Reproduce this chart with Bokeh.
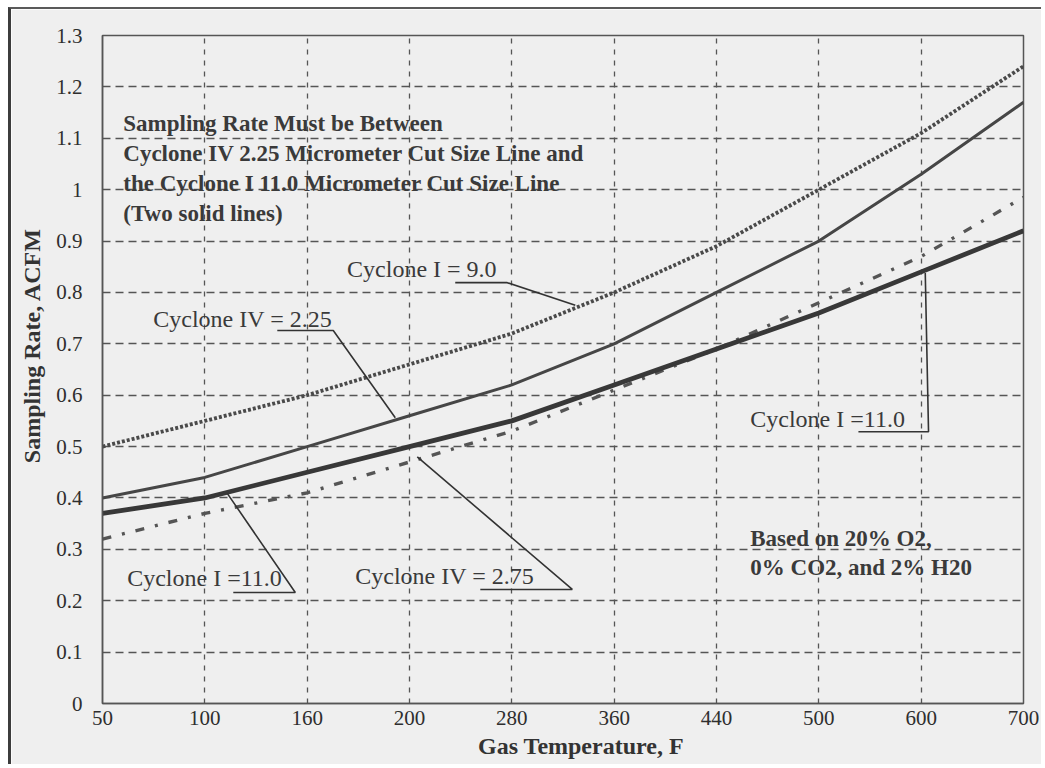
from bokeh.plotting import figure
from bokeh.models import Range1d, FixedTicker, CustomJSTickFormatter, ColumnDataSource
from bokeh.core.properties import value
from bokeh.embed import file_html
from bokeh.resources import INLINE

# ---- data ----
temps = ["50", "100", "160", "200", "280", "360", "440", "500", "600", "700"]
cyclone1_9_0 = [0.50, 0.55, 0.60, 0.66, 0.72, 0.80, 0.89, 1.00, 1.11, 1.24]
cyclone4_2_25 = [0.40, 0.44, 0.50, 0.56, 0.62, 0.70, 0.80, 0.90, 1.03, 1.17]
cyclone1_11_0 = [0.37, 0.40, 0.45, 0.50, 0.55, 0.62, 0.69, 0.76, 0.84, 0.92]
cyclone4_2_75 = [0.32, 0.37, 0.41, 0.47, 0.53, 0.61, 0.69, 0.78, 0.87, 0.985]
y_ticks = [round(i * 0.1, 1) for i in range(14)]

x_idx = list(range(len(temps)))
src = ColumnDataSource(dict(x=x_idx, c19=cyclone1_9_0, c4225=cyclone4_2_25,
                            c111=cyclone1_11_0, c4275=cyclone4_2_75))

BG = "#efefef"
SERIF = "Liberation Serif"
NB = "\u00a0"

p = figure(width=1033, height=757, output_backend="svg", toolbar_location=None,
           x_range=Range1d(0, 9), y_range=Range1d(0, 1.3),
           min_border_left=91, min_border_right=21, min_border_top=26, min_border_bottom=63)
p.styles = {"margin-left": "8px", "margin-top": "7px",
            "border-left": "3px solid #3c3c3c", "border-top": "2px solid #5a5a5a"}
p.background_fill_color = BG
p.border_fill_color = BG
p.outline_line_color = "#555555"
p.outline_line_width = 1.5

# axes
for ax in (p.xaxis[0], p.yaxis[0]):
    ax.axis_line_color = "#555555"
    ax.axis_line_width = 1.5
    ax.major_tick_line_color = None
    ax.minor_tick_line_color = None
    ax.major_tick_out = 0
    ax.major_tick_in = 0
    ax.minor_tick_out = 0
    ax.minor_tick_in = 0
    ax.major_label_text_font = SERIF
    ax.major_label_text_font_size = "21px"
    ax.major_label_text_color = "#2e2e2e"
    ax.axis_label_text_font = SERIF
    ax.axis_label_text_font_size = "24px"
    ax.axis_label_text_font_style = "bold"
    ax.axis_label_text_color = "#333333"
    ax.axis_label_standoff = 5

p.xaxis.ticker = FixedTicker(ticks=x_idx)
p.xaxis.formatter = CustomJSTickFormatter(args=dict(labels=temps),
                                          code="return labels[Math.round(tick)];")
p.xaxis.major_label_standoff = 7
p.xaxis.axis_label = NB * 6 + "Gas Temperature, F"
p.yaxis.ticker = FixedTicker(ticks=y_ticks)
p.yaxis.formatter = CustomJSTickFormatter(code="return tick.toFixed(1).replace(/\\.0$/, '');")
p.yaxis.major_label_standoff = 20
p.yaxis.axis_label = NB * 8 + "Sampling Rate, ACFM"
p.yaxis.axis_label_standoff = 8

# grid
p.xgrid.grid_line_color = "#555555"
p.xgrid.grid_line_width = 1.3
p.xgrid.grid_line_dash = "5 6"
p.ygrid.grid_line_color = "#555555"
p.ygrid.grid_line_width = 1.3
p.ygrid.grid_line_dash = "8 5"

# series
p.line("x", "c19", source=src, line_color="#4a4a4a", line_width=3.8,
       line_dash="3 2")
p.line("x", "c4225", source=src, line_color="#464646", line_width=3.0)
p.line("x", "c4275", source=src, line_color="#555555", line_width=3.4,
       line_dash="9 11 3 11")
p.line("x", "c111", source=src, line_color="#383838", line_width=4.8)

# annotation leaders / underlines
LEAD = dict(line_color="#333333", line_width=1.6)
p.line([3.447, 3.955, 4.62], [0.819, 0.819, 0.775], **LEAD)          # Cyclone I = 9.0
p.line([1.708, 2.255, 2.861], [0.726, 0.726, 0.556], **LEAD)         # Cyclone IV = 2.25
p.line([1.278, 1.884, 1.219], [0.216, 0.216, 0.409], **LEAD)         # Cyclone I = 11.0 (left)
p.line([3.692, 4.591, 3.076], [0.222, 0.222, 0.480], **LEAD)         # Cyclone IV = 2.75
p.line([7.387, 8.072, 8.04], [0.529, 0.529, 0.838], **LEAD)          # Cyclone I = 11.0 (right)

# annotation texts (y = visual centre of the line)
ann_x = [2.39, 0.496, 0.241, 2.47, 6.33]
ann_y = [0.846, 0.749, 0.245, 0.249, 0.554]
ann_t = ["Cyclone I = 9.0", "Cyclone IV = 2.25", "Cyclone I =11.0",
         "Cyclone IV = 2.75", "Cyclone I =11.0"]
p.text(x=ann_x, y=ann_y, text=ann_t, text_font=value(SERIF), text_font_size="24px",
       text_color="#3a3a3a", text_baseline="alphabetic", text_align="left")

note_x = [0.203, 0.203, 0.203, 0.203, 6.33, 6.33]
note_y = [1.128, 1.070, 1.012, 0.953, 0.321, 0.265]
note_t = ["Sampling Rate Must be Between",
          "Cyclone IV 2.25 Micrometer Cut Size Line and",
          "the Cyclone I 11.0 Micrometer Cut Size Line",
          "(Two solid lines)",
          "Based on 20% O2,",
          "0% CO2, and 2% H20"]
p.text(x=note_x, y=note_y, text=note_t, text_font=value(SERIF), text_font_size="23px",
       text_font_style="bold", text_color="#3a3a3a",
       text_baseline="alphabetic", text_align="left")

open("out.html", "w").write(file_html(p, INLINE))
